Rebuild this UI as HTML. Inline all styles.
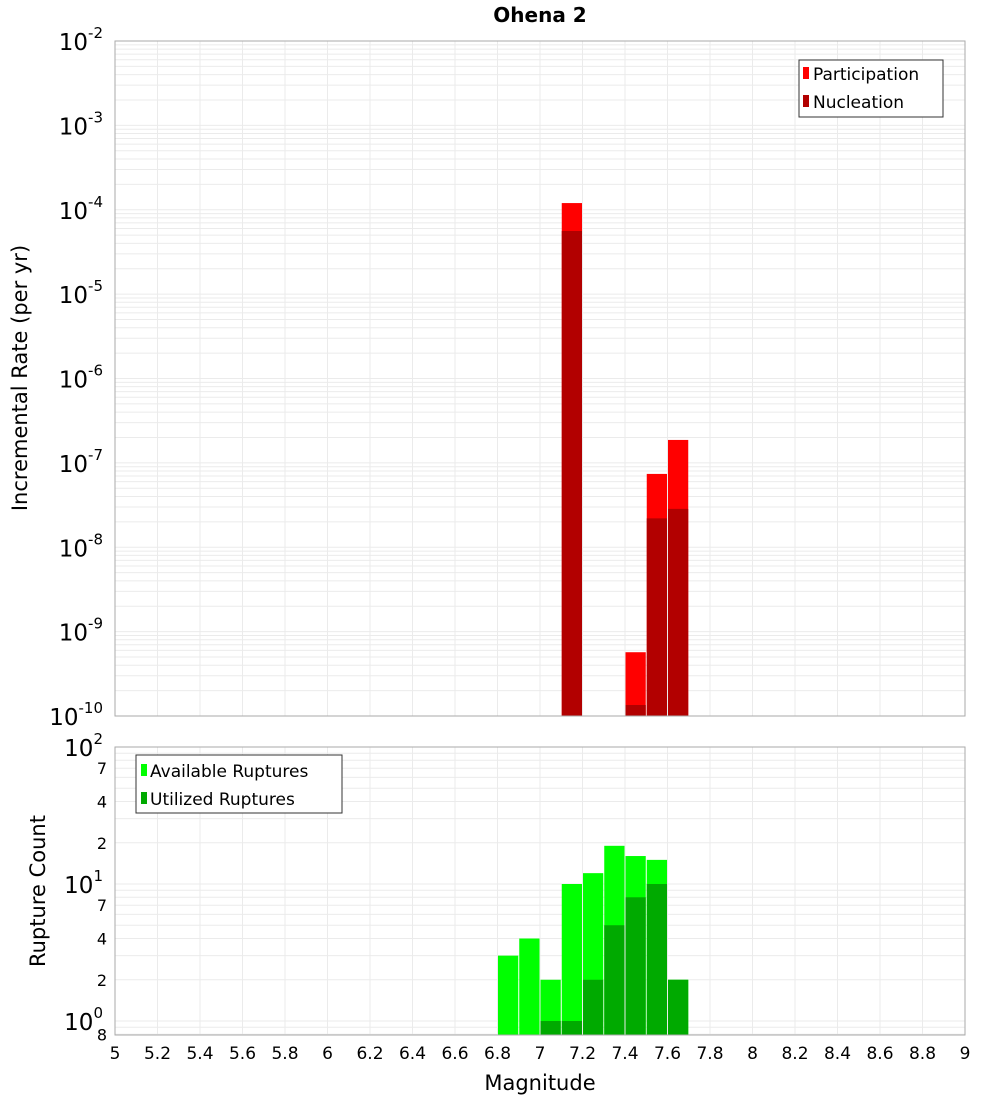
<!DOCTYPE html>
<html><head><meta charset="utf-8"><style>
body{margin:0;background:#fff;}
svg{font-family:"DejaVu Sans","Liberation Sans",sans-serif;display:block;}
</style></head><body>
<svg id="chart" width="1000" height="1100" xmlns="http://www.w3.org/2000/svg">
<text x="540" y="22" text-anchor="middle" font-size="20" font-weight="bold">Ohena 2</text>
<g id="gtop"></g><g id="gbot"></g><g id="xax"></g>
<text transform="translate(27,378) rotate(-90)" text-anchor="middle" font-size="21">Incremental Rate (per yr)</text>
<text transform="translate(45,891) rotate(-90)" text-anchor="middle" font-size="21">Rupture Count</text>
<text x="540" y="1090" text-anchor="middle" font-size="21">Magnitude</text>
<g>
<rect x="799" y="60" width="144" height="57" fill="#fff" stroke="#333"/>
<rect x="803" y="67" width="6" height="12" fill="#ff0000"/>
<text x="813" y="80" font-size="17">Participation</text>
<rect x="803" y="95" width="6" height="12" fill="#b20000"/>
<text x="813" y="108" font-size="17">Nucleation</text>
</g>
<g>
<rect x="136" y="755" width="206" height="58" fill="#fff" stroke="#333"/>
<rect x="141" y="764" width="6" height="12" fill="#00ff00"/>
<text x="150" y="777" font-size="17">Available Ruptures</text>
<rect x="141" y="792" width="6" height="12" fill="#00aa00"/>
<text x="150" y="805" font-size="17">Utilized Ruptures</text>
</g>
</svg>
<script>
const mags=[6.85,6.95,7.05,7.15,7.25,7.35,7.45,7.55,7.65];
const available=[3,4,2,10,12,19,16,15,2];
const utilized=[0,0,1,1,2,5,8,10,2];
const rateMags=[7.15,7.45,7.55,7.65];
const participation=[1.2e-4,5.7e-10,7.4e-8,1.87e-7];
const nucleation=[5.6e-5,1.35e-10,2.2e-8,2.85e-8];
const xTicks=[5,5.2,5.4,5.6,5.8,6,6.2,6.4,6.6,6.8,7,7.2,7.4,7.6,7.8,8,8.2,8.4,8.6,8.8,9];
const xTickLabels=["5","5.2","5.4","5.6","5.8","6","6.2","6.4","6.6","6.8","7","7.2","7.4","7.6","7.8","8","8.2","8.4","8.6","8.8","9"];
const topExps=[-2,-3,-4,-5,-6,-7,-8,-9,-10];
const botMinorVals=[0.8,2,4,7,20,40,70];
const botMinorLabels=["8","2","4","7","2","4","7"];

(function(){
const NS="http://www.w3.org/2000/svg";
const L=115,R=965;
const X=m=>L+(m-5)/4*(R-L);
const T0=41,T1=716;
const YT=v=>T0+(-2-Math.log10(v))/8*(T1-T0);
const B0=747,B1=1035,DEC=137;
const YB=v=>B0+(2-Math.log10(v))*DEC;
function mk(tag,attrs,parent){const e=document.createElementNS(NS,tag);for(const k in attrs)e.setAttribute(k,attrs[k]);parent.appendChild(e);return e;}
const gTop=document.getElementById('gtop'),gBot=document.getElementById('gbot'),xax=document.getElementById('xax');
function vgrid(g,y0,y1){xTicks.forEach(t=>{const l=mk('line',{x1:X(t),x2:X(t),y1:y0,y2:y1,stroke:'#ebebeb'},g);

});}
vgrid(gTop,T0,T1);vgrid(gBot,B0,B1);
for(let e=-10;e<-2;e++){for(let k=1;k<10;k++){const y=YT(k*Math.pow(10,e));const l=mk('line',{x1:L,x2:R,y1:y,y2:y,stroke:'#ebebeb'},gTop);

}}
for(let e=-1;e<2;e++){for(let k=1;k<10;k++){const v=k*Math.pow(10,e);const y=YB(v);if(y>B1)continue;const l=mk('line',{x1:L,x2:R,y1:y,y2:y,stroke:'#ebebeb'},gBot);

}}
rateMags.forEach((m,i)=>{
const x=X(m-0.05)+0.5,w=X(m+0.05)-X(m-0.05)-1;
let y=YT(participation[i]);
const p=mk('rect',{x:x,y:y,width:w,height:T1-y,fill:'#ff0000'},gTop);


y=YT(nucleation[i]);
const n=mk('rect',{x:x,y:y,width:w,height:T1-y,fill:'#b20000'},gTop);


});
mags.forEach((m,i)=>{
const x=X(m-0.05)+0.5,w=X(m+0.05)-X(m-0.05)-1;
let y=YB(available[i]);
const a=mk('rect',{x:x,y:y,width:w,height:B1-y,fill:'#00ff00'},gBot);


if(utilized[i]>0){y=YB(utilized[i]);
const u=mk('rect',{x:x,y:y,width:w,height:B1-y,fill:'#00aa00'},gBot);

}
});
mk('rect',{x:L,y:T0,width:R-L,height:T1-T0,fill:'none',stroke:'#aaa'},gTop);
mk('rect',{x:L,y:B0,width:R-L,height:B1-B0,fill:'none',stroke:'#aaa'},gBot);
topExps.forEach(e=>{const y=YT(Math.pow(10,e));
const t=mk('text',{x:103,y:y+9,'text-anchor':'end','font-size':23},gTop);


t.textContent='10';
const s=mk('tspan',{dy:-12,'font-size':15},t);s.textContent=String(e);});
[0,1,2].forEach(e=>{const y=YB(Math.pow(10,e));
const t=mk('text',{x:103,y:y+9,'text-anchor':'end','font-size':23},gBot);


t.textContent='10';
const s=mk('tspan',{dy:-12,'font-size':15},t);s.textContent=String(e);});
botMinorVals.forEach((v,i)=>{const y=YB(v);
const t=mk('text',{x:107,y:y+6,'text-anchor':'end','font-size':16},gBot);


t.textContent=botMinorLabels[i];});
xTicks.forEach((m,i)=>{const t=mk('text',{x:X(m),y:1059,'text-anchor':'middle','font-size':17},xax);


t.textContent=xTickLabels[i];});
})();
</script>
</body></html>
